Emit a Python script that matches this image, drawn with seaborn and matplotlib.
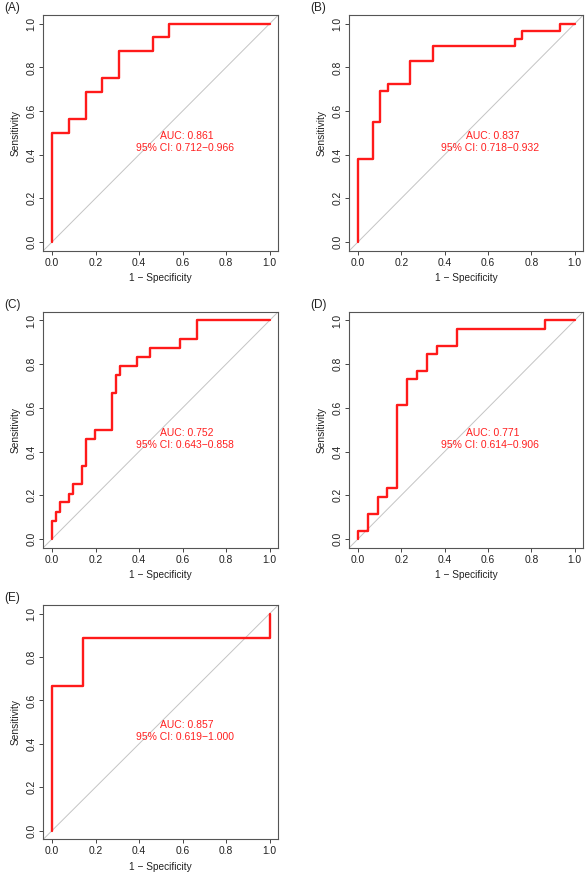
import pandas as pd
import seaborn as sns
import matplotlib
matplotlib.use("Agg")
import matplotlib.pyplot as plt

# ROC step corners (1 - specificity, sensitivity)
fpr_a = [0, 0.077, 0.154, 0.231, 0.308, 0.462, 0.538, 1.0]
tpr_a = [0, 0.500, 0.563, 0.688, 0.750, 0.875, 0.938, 1.0]

fpr_b = [0, 0.069, 0.103, 0.138, 0.241, 0.345, 0.724, 0.759, 0.931, 1.0]
tpr_b = [0, 0.379, 0.552, 0.690, 0.724, 0.828, 0.897, 0.931, 0.966, 1.0]

fpr_c = [0, 0.020, 0.039, 0.078, 0.098, 0.137, 0.157, 0.196, 0.275, 0.294,
         0.314, 0.392, 0.451, 0.588, 0.667, 1.0]
tpr_c = [0, 0.083, 0.125, 0.167, 0.208, 0.250, 0.333, 0.458, 0.500, 0.667,
         0.750, 0.792, 0.833, 0.875, 0.917, 1.0]

fpr_d = [0, 0.045, 0.091, 0.136, 0.182, 0.227, 0.273, 0.318, 0.364, 0.455, 0.864, 1.0]
tpr_d = [0, 0.038, 0.115, 0.192, 0.231, 0.615, 0.731, 0.769, 0.846, 0.885, 0.962, 1.0]

fpr_e = [0, 0.143, 1.0, 1.0]
tpr_e = [0, 0.667, 0.889, 1.0]

panel_labels = ["(A)", "(B)", "(C)", "(D)", "(E)"]
auc_values = ["0.861", "0.837", "0.752", "0.771", "0.857"]
ci_values = ["0.712\u22120.966", "0.718\u22120.932", "0.643\u22120.858",
             "0.614\u22120.906", "0.619\u22121.000"]
ticks = [0.0, 0.2, 0.4, 0.6, 0.8, 1.0]

curves = [(fpr_a, tpr_a), (fpr_b, tpr_b), (fpr_c, tpr_c), (fpr_d, tpr_d), (fpr_e, tpr_e)]

sns.set_style("ticks")
plt.rcParams["font.family"] = ["Liberation Sans", "DejaVu Sans"]
plt.rcParams["axes.unicode_minus"] = True

fig = plt.figure(figsize=(5.87, 8.85), dpi=100)
W, H = 587, 885
# panel boxes in pixels: left, top, right, bottom
boxes = [
    (43.3, 15.0, 278.3, 250.7),
    (349.3, 15.0, 583.3, 250.7),
    (43.3, 311.7, 278.3, 547.7),
    (349.3, 311.7, 583.3, 547.7),
    (43.3, 605.0, 278.3, 839.3),
]

for i, (fpr, tpr) in enumerate(curves):
    l, t, r, b = boxes[i]
    ax = fig.add_axes([l / W, 1 - b / H, (r - l) / W, (b - t) / H])
    df = pd.DataFrame({"fpr": fpr, "tpr": tpr})
    ax.axline((0, 0), (1, 1), color="#c4c4c4", lw=0.7, zorder=1)
    sns.lineplot(data=df, x="fpr", y="tpr", ax=ax, sort=False, estimator=None,
                 drawstyle="steps-pre", color="#ff1a1a", lw=1.7, zorder=3)
    ax.set_xlim(-0.04, 1.04)
    ax.set_ylim(-0.04, 1.04)
    ax.set_xticks(ticks)
    ax.set_yticks(ticks)
    ax.set_xticklabels([f"{v:.1f}" for v in ticks])
    ax.set_yticklabels([f"{v:.1f}" for v in ticks], rotation=90, va="center")
    ax.tick_params(labelsize=7.4, length=3, width=0.7, color="#444444",
                   labelcolor="#222222", pad=2)
    for s in ax.spines.values():
        s.set_color("#555555")
        s.set_linewidth(0.8)
    ax.set_xlabel("1 \u2212 Specificity", fontsize=7.3, color="#222222", labelpad=4)
    ax.set_ylabel("Sensitivity", fontsize=7.3, color="#222222", labelpad=4)
    ax.text(0.62, 0.485, f"AUC: {auc_values[i]}", color="#ff2020", fontsize=7.5,
            ha="center", va="center")
    ax.text(0.61, 0.43, f"95% CI: {ci_values[i]}", color="#ff2020", fontsize=7.5,
            ha="center", va="center")
    fig.text((l - 39) / W, 1 - (t - 7) / H, panel_labels[i], fontsize=8.5,
             color="#222222", ha="left", va="center")

fig.savefig("out.png", dpi=100)
